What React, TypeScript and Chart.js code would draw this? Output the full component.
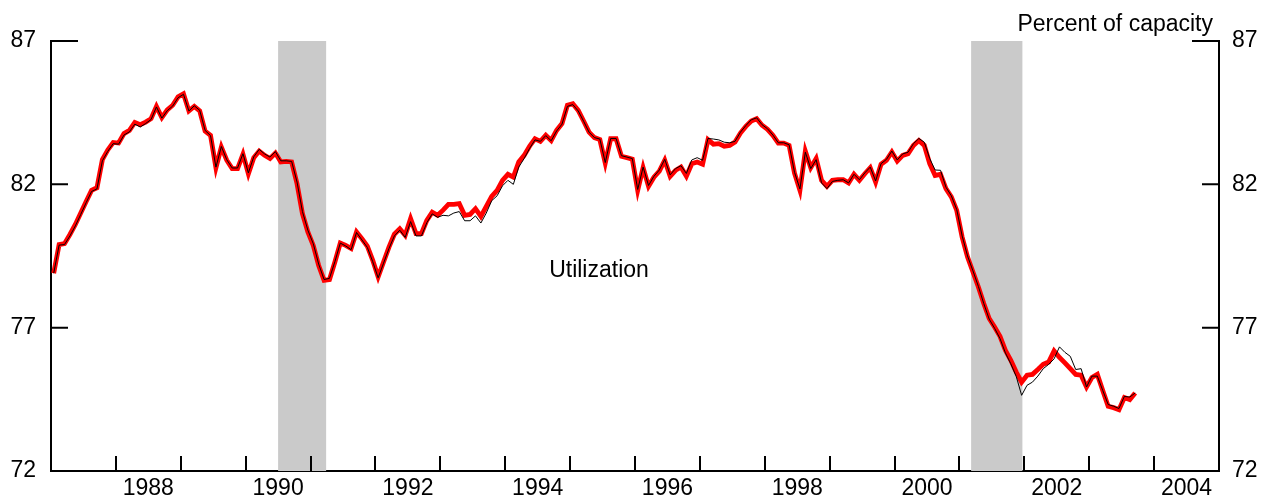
import React, { useEffect, useRef } from "react";
import { Chart, registerables } from "chart.js";

Chart.register(...registerables);

const startYear = 1987;

// Monthly capacity utilization, Jan 1987 - Sep 2003 (current estimate, red)
const redValues = [
  78.9, 79.9, 79.93, 80.25, 80.6, 81.0, 81.4, 81.79, 81.88, 82.86, 83.2, 83.46,
  83.44, 83.77, 83.88, 84.16, 84.08, 84.17, 84.29, 84.72, 84.33, 84.6, 84.76, 85.05,
  85.16, 84.56, 84.72, 84.56, 83.86, 83.71, 82.58, 83.3, 82.84, 82.55, 82.55, 83.05,
  82.37, 82.93, 83.16, 83.01, 82.9, 83.09, 82.78, 82.8, 82.78, 82.02, 80.98, 80.34,
  79.87, 79.17, 78.65, 78.68, 79.29, 79.95, 79.87, 79.76, 80.34, 80.1, 79.84, 79.35,
  78.77, 79.29, 79.81, 80.26, 80.45, 80.22, 80.8, 80.28, 80.28, 80.74, 81.03, 80.92,
  81.1, 81.3, 81.3, 81.33, 80.92, 80.95, 81.15, 80.88, 81.23, 81.58, 81.79, 82.14,
  82.35, 82.25, 82.78, 83.01, 83.33, 83.59, 83.5, 83.71, 83.53, 83.88, 84.12, 84.76,
  84.81, 84.58, 84.21, 83.82, 83.63, 83.56, 82.74, 83.59, 83.59, 82.98, 82.93, 82.88,
  81.79, 82.58, 81.93, 82.25, 82.46, 82.84, 82.28, 82.49, 82.6, 82.28, 82.72, 82.78,
  82.7, 83.56, 83.4, 83.42, 83.33, 83.36, 83.48, 83.79, 84.02, 84.21, 84.29, 84.06,
  83.92, 83.71, 83.44, 83.44, 83.36, 82.39, 81.79, 83.16, 82.58, 82.9, 82.14, 81.93,
  82.14, 82.16, 82.16, 82.05, 82.35, 82.14, 82.37, 82.58, 82.08, 82.7, 82.84, 83.13,
  82.81, 83.01, 83.07, 83.36, 83.53, 83.36, 82.72, 82.31, 82.35, 81.85, 81.56, 81.09,
  80.16, 79.46, 78.94, 78.42, 77.84, 77.32, 77.02, 76.7, 76.21, 75.86, 75.45, 75.1,
  75.34, 75.37, 75.54, 75.72, 75.8, 76.19, 75.96, 75.77, 75.57, 75.37, 75.34, 74.93,
  75.26, 75.37, 74.81, 74.26, 74.21, 74.14, 74.56, 74.49, 74.72,
];

// Earlier estimate (black)
const blackValues = [
  78.9, 79.88, 79.9, 80.2, 80.55, 80.95, 81.36, 81.75, 81.84, 82.82, 83.15, 83.42,
  83.4, 83.72, 83.83, 84.1, 84.0, 84.12, 84.26, 84.7, 84.31, 84.57, 84.73, 85.02,
  85.14, 84.56, 84.74, 84.58, 83.88, 83.7, 82.6, 83.32, 82.86, 82.57, 82.57, 83.07,
  82.4, 82.96, 83.22, 83.06, 82.95, 83.14, 82.82, 82.82, 82.8, 82.08, 81.05, 80.4,
  79.93, 79.22, 78.68, 78.72, 79.3, 79.95, 79.85, 79.72, 80.32, 80.06, 79.8, 79.3,
  78.74, 79.25, 79.76, 80.2, 80.4, 80.15, 80.7, 80.2, 80.2, 80.66, 80.97, 80.85,
  80.92, 80.9, 81.0, 81.05, 80.73, 80.73, 80.9, 80.65, 81.0, 81.43, 81.6, 81.95,
  82.14, 82.0, 82.6, 82.9, 83.25, 83.55, 83.5, 83.7, 83.52, 83.86, 84.1, 84.72,
  84.78, 84.56, 84.2, 83.82, 83.63, 83.58, 82.76, 83.6, 83.6, 83.0, 82.95, 82.9,
  81.82, 82.6, 81.96, 82.28, 82.5, 82.87, 82.33, 82.55, 82.65, 82.38, 82.85, 82.93,
  82.84, 83.6, 83.58, 83.55, 83.47, 83.45, 83.5, 83.82, 84.05, 84.25, 84.32, 84.08,
  83.94, 83.72, 83.45, 83.45, 83.38, 82.42, 81.84, 83.12, 82.55, 82.86, 82.05, 81.85,
  82.1, 82.14, 82.16, 82.05, 82.35, 82.16, 82.4, 82.6, 82.12, 82.72, 82.87, 83.16,
  82.85, 83.06, 83.12, 83.42, 83.6, 83.47, 82.9, 82.5, 82.49, 81.9, 81.6, 81.12,
  80.2, 79.5, 78.98, 78.44, 77.84, 77.3, 76.98, 76.62, 76.12, 75.74, 75.3, 74.64,
  74.99, 75.1, 75.31, 75.57, 75.72, 75.91, 76.33, 76.14, 76.0, 75.54, 75.57, 74.93,
  75.31, 75.31, 74.81, 74.32, 74.26, 74.18, 74.6, 74.58, 74.72,
];

const yTickValues = [72, 77, 82, 87];
const xLabelYears = [1988, 1990, 1992, 1994, 1996, 1998, 2000, 2002, 2004];
const yearBoundaries = [1988, 1989, 1990, 1991, 1992, 1993, 1994, 1995, 1996, 1997, 1998, 1999, 2000, 2001, 2002, 2003, 2004];
const recessionStarts = [1990.5, 2001.18];
const recessionEnds = [1991.24, 2001.97];

const FONT = "'Liberation Sans', Arial, Helvetica, sans-serif";
const FONT_SIZE = 23;

const toPoints = (vals: number[]) =>
  vals.map((v, i) => ({ x: startYear + (i + 0.5) / 12, y: v }));

const decorPlugin = {
  id: "decor",
  beforeDatasetsDraw(chart: any) {
    const { ctx, scales } = chart;
    const xs = scales.x;
    const ys = scales.y;
    ctx.save();
    ctx.fillStyle = "#cacaca";
    for (let i = 0; i < recessionStarts.length; i++) {
      const x0 = xs.getPixelForValue(recessionStarts[i]);
      const x1 = xs.getPixelForValue(recessionEnds[i]);
      const yt = ys.getPixelForValue(87);
      const yb = ys.getPixelForValue(72);
      ctx.fillRect(x0, yt, x1 - x0, yb - yt);
    }
    ctx.restore();
  },
  afterDraw(chart: any) {
    const { ctx, scales, chartArea } = chart;
    const xs = scales.x;
    const ys = scales.y;
    ctx.save();
    ctx.strokeStyle = "#000";
    ctx.lineWidth = 2;
    ctx.beginPath();
    const bottom = ys.getPixelForValue(72);
    for (const yr of yearBoundaries) {
      const x = Math.round(xs.getPixelForValue(yr));
      ctx.moveTo(x, bottom);
      ctx.lineTo(x, bottom - 15);
    }
    const L = chartArea.left;
    const R = chartArea.right;
    for (const v of yTickValues) {
      const y = ys.getPixelForValue(v);
      const len = v === 87 ? 27 : 17;
      ctx.moveTo(L, y);
      ctx.lineTo(L + len, y);
      ctx.moveTo(R, y);
      ctx.lineTo(R - len, y);
    }
    ctx.stroke();

    ctx.fillStyle = "#000";
    ctx.font = `${FONT_SIZE}px ${FONT}`;
    ctx.textAlign = "right";
    ctx.textBaseline = "alphabetic";
    ctx.fillText("Percent of capacity", 1213, 31);
    ctx.textAlign = "center";
    ctx.fillText("Utilization", 599, 277);
    ctx.restore();
  },
};

export default function App() {
  const ref = useRef<HTMLCanvasElement | null>(null);

  useEffect(() => {
    if (!ref.current) return;
    const chart = new Chart(ref.current, {
      type: "line",
      data: {
        datasets: [
          {
            label: "Earlier",
            data: toPoints(blackValues),
            borderColor: "#000000",
            borderWidth: 1,
            pointRadius: 0,
            tension: 0,
            yAxisID: "y",
          },
          {
            label: "Current",
            data: toPoints(redValues),
            borderColor: "#ff0000",
            borderWidth: 4.8,
            pointRadius: 0,
            tension: 0,
            yAxisID: "y",
          },
        ],
      },
      plugins: [decorPlugin],
      options: {
        animation: false,
        responsive: false,
        devicePixelRatio: 1,
        layout: { padding: { top: 41, bottom: 0, left: 0, right: 0 } },
        plugins: {
          legend: { display: false },
          tooltip: { enabled: false },
        },
        scales: {
          x: {
            type: "linear",
            min: 1987,
            max: 2005,
            grid: { display: false, drawTicks: false, tickLength: 0 },
            border: { display: true, color: "#000", width: 2 },
            afterBuildTicks: (scale: any) => {
              scale.ticks = xLabelYears.map((y) => ({ value: y + 0.5 }));
            },
            afterFit: (scale: any) => {
              scale.height = 31;
            },
            ticks: {
              autoSkip: false,
              maxRotation: 0,
              padding: 4,
              color: "#000",
              font: { family: FONT, size: FONT_SIZE },
              callback: (v: any) => String(Math.floor(Number(v))),
            },
          },
          y: {
            position: "left",
            min: 72,
            max: 87,
            grid: { display: false, drawTicks: false, tickLength: 0 },
            border: { display: true, color: "#000", width: 2 },
            afterBuildTicks: (scale: any) => {
              scale.ticks = yTickValues.map((v) => ({ value: v }));
            },
            afterFit: (scale: any) => {
              scale.width = 51;
            },
            ticks: {
              padding: 15,
              color: "#000",
              font: { family: FONT, size: FONT_SIZE },
            },
          },
          y2: {
            position: "right",
            min: 72,
            max: 87,
            grid: { display: false, drawTicks: false, tickLength: 0 },
            border: { display: true, color: "#000", width: 2 },
            afterBuildTicks: (scale: any) => {
              scale.ticks = yTickValues.map((v) => ({ value: v }));
            },
            afterFit: (scale: any) => {
              scale.width = 52;
            },
            ticks: {
              padding: 13,
              color: "#000",
              font: { family: FONT, size: FONT_SIZE },
            },
          },
        },
      },
    });
    return () => chart.destroy();
  }, []);

  return (
    <div style={{ position: "absolute", left: 0, top: 0, width: 1271, height: 502, background: "#fff" }}>
      <canvas ref={ref} width={1271} height={502} style={{ display: "block" }} />
    </div>
  );
}
